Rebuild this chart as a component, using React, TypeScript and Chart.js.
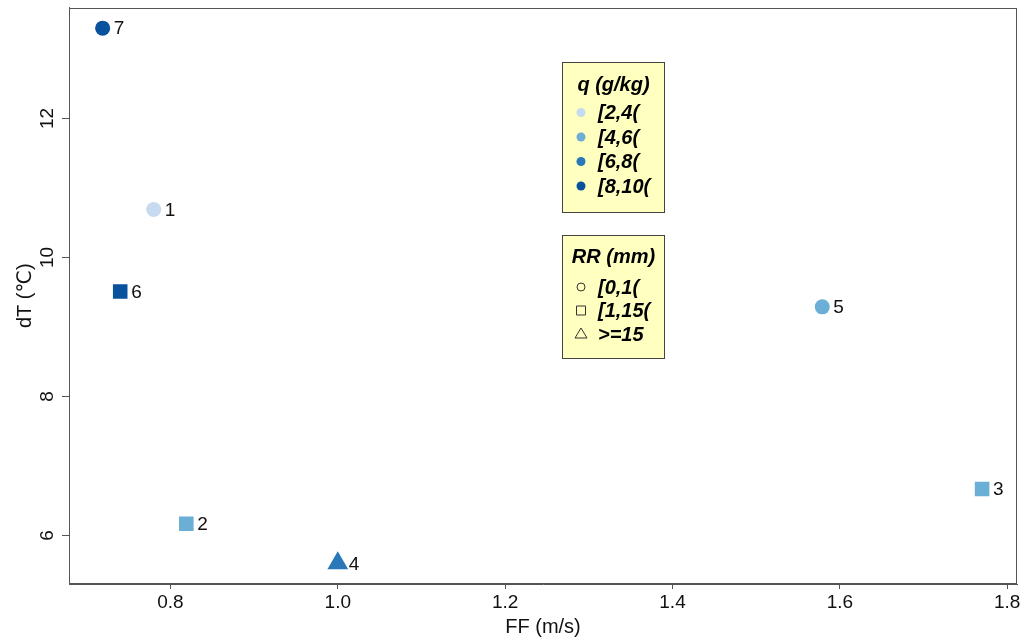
import React, { useEffect, useRef } from "react";
import { Chart, registerables } from "chart.js";

Chart.register(...registerables);

// ---- data ----
const pointIds = ["1", "2", "3", "4", "5", "6", "7"];
const ffValues = [0.78, 0.819, 1.77, 1.0, 1.579, 0.74, 0.719];
const dTValues = [10.69, 6.17, 6.67, 5.6, 9.29, 9.51, 13.3];
const qClassOfPoint = [0, 1, 1, 2, 1, 3, 3];
const rrClassOfPoint = [0, 1, 1, 2, 0, 1, 0];

const qTitle = "q (g/kg)";
const qLabels = ["[2,4(", "[4,6(", "[6,8(", "[8,10("];
const qColors = ["#c6dbef", "#6baed6", "#2a78b8", "#08519c"];
const rrTitle = "RR (mm)";
const rrLabels = ["[0,1(", "[1,15(", ">=15"];
const rrStyles = ["circle", "rect", "triangle"];
const rrRadius = [7.5, 10.3, 12];

const xTicks = [0.8, 1.0, 1.2, 1.4, 1.6, 1.8];
const yTicks = [6, 8, 10, 12];
const xRange = [0.6788, 1.8117];
const yRange = [5.302, 13.597];
const xTitle = "FF (m/s)";
const yTitle = "dT (℃)";

const FONT = "'Liberation Sans', Arial, 'DejaVu Sans', sans-serif";
const AXIS_COLOR = "#555555";
const TEXT_COLOR = "#111111";

const overlayPlugin = {
  id: "overlay",
  afterDraw(chart: any) {
    const ctx = chart.ctx as CanvasRenderingContext2D;
    const { left, right, top, bottom } = chart.chartArea;
    const xs = chart.scales.x;
    const ys = chart.scales.y;
    ctx.save();

    // plot frame
    ctx.strokeStyle = AXIS_COLOR;
    ctx.lineWidth = 1;
    const l = Math.round(left) + 0.5;
    const t = Math.round(top) + 0.5;
    const r = Math.round(right) - 0.5;
    const b = Math.round(bottom) - 0.5;
    ctx.strokeRect(l, t, r - l, b - t);

    // rotated y tick labels
    ctx.fillStyle = TEXT_COLOR;
    ctx.font = `19px ${FONT}`;
    ctx.textAlign = "center";
    ctx.textBaseline = "middle";
    yTicks.forEach((v) => {
      const y = ys.getPixelForValue(v);
      ctx.save();
      ctx.translate(left - 21, y);
      ctx.rotate(-Math.PI / 2);
      ctx.fillText(String(v), 0, 0);
      ctx.restore();
    });

    // point labels
    ctx.font = `19px ${FONT}`;
    ctx.textAlign = "left";
    ctx.textBaseline = "middle";
    pointIds.forEach((id, i) => {
      const px = xs.getPixelForValue(ffValues[i]);
      const py = ys.getPixelForValue(dTValues[i]);
      ctx.fillText(id, px + 11, py + 1);
    });

    // legend boxes
    const boxX = 562.5;
    const boxW = 102;
    const drawBox = (y: number, h: number) => {
      ctx.fillStyle = "#ffffc0";
      ctx.fillRect(boxX, y, boxW, h);
      ctx.strokeStyle = "#444444";
      ctx.lineWidth = 1;
      ctx.strokeRect(boxX, y, boxW, h);
    };
    const symX = 581;
    const txtX = 598;

    drawBox(62.5, 150);
    ctx.fillStyle = "#000";
    ctx.font = `italic bold 20px ${FONT}`;
    ctx.textAlign = "center";
    ctx.textBaseline = "middle";
    ctx.fillText(qTitle, boxX + boxW / 2, 85);
    qLabels.forEach((lab, i) => {
      const y = 112.5 + i * 24.5;
      ctx.fillStyle = qColors[i];
      ctx.beginPath();
      ctx.arc(symX, y, 4.5, 0, Math.PI * 2);
      ctx.fill();
      ctx.fillStyle = "#000";
      ctx.textAlign = "left";
      ctx.fillText(lab, txtX, y + 1);
    });

    drawBox(235.5, 123);
    ctx.fillStyle = "#000";
    ctx.textAlign = "center";
    ctx.fillText(rrTitle, boxX + boxW / 2, 257);
    rrLabels.forEach((lab, i) => {
      const y = 287 + i * 23.5;
      ctx.strokeStyle = "#333";
      ctx.lineWidth = 1;
      ctx.beginPath();
      if (rrStyles[i] === "circle") {
        ctx.arc(symX, y, 4, 0, Math.PI * 2);
      } else if (rrStyles[i] === "rect") {
        ctx.rect(symX - 4.5, y - 4.5, 9, 9);
      } else {
        ctx.moveTo(symX, y - 6);
        ctx.lineTo(symX + 6, y + 4);
        ctx.lineTo(symX - 6, y + 4);
        ctx.closePath();
      }
      ctx.stroke();
      ctx.fillStyle = "#000";
      ctx.textAlign = "left";
      ctx.fillText(lab, txtX, y + 1);
    });

    ctx.restore();
  },
};

export default function App() {
  const canvasRef = useRef<HTMLCanvasElement | null>(null);

  useEffect(() => {
    if (!canvasRef.current) return;
    const data = ffValues.map((x, i) => ({ x, y: dTValues[i] }));
    const chart = new Chart(canvasRef.current, {
      type: "scatter",
      data: {
        datasets: [
          {
            label: "points",
            data,
            pointStyle: rrClassOfPoint.map((c) => rrStyles[c]) as any,
            pointRadius: rrClassOfPoint.map((c) => rrRadius[c]),
            pointHoverRadius: rrClassOfPoint.map((c) => rrRadius[c]),
            backgroundColor: qClassOfPoint.map((c) => qColors[c]),
            borderColor: qClassOfPoint.map((c) => qColors[c]),
            borderWidth: 0,
          },
        ],
      },
      options: {
        responsive: true,
        maintainAspectRatio: false,
        animation: false,
        events: [],
        layout: {
          autoPadding: false,
          padding: { top: 7.5, right: 6, left: 0, bottom: 0 },
        },
        plugins: {
          legend: { display: false },
          tooltip: { enabled: false },
        },
        scales: {
          x: {
            type: "linear",
            min: xRange[0],
            max: xRange[1],
            afterFit: (s: any) => {
              s.height = 55;
              s.paddingLeft = 0;
              s.paddingRight = 0;
              s.paddingTop = 0;
              s.paddingBottom = 0;
            },
            afterBuildTicks: (s: any) => {
              s.ticks = xTicks.map((v) => ({ value: v }));
            },
            grid: {
              drawOnChartArea: false,
              drawTicks: true,
              tickLength: 5,
              color: AXIS_COLOR,
            },
            border: { color: AXIS_COLOR },
            ticks: {
              autoSkip: false,
              maxRotation: 0,
              minRotation: 0,
              padding: 2,
              color: TEXT_COLOR,
              font: { family: FONT, size: 19 },
              callback: (v: any) => Number(v).toFixed(1),
            },
            title: {
              display: true,
              text: xTitle,
              color: TEXT_COLOR,
              font: { family: FONT, size: 20 },
              padding: { top: 0, bottom: 0 },
            },
          },
          y: {
            type: "linear",
            min: yRange[0],
            max: yRange[1],
            afterFit: (s: any) => {
              s.width = 69;
              s.paddingLeft = 0;
              s.paddingRight = 0;
              s.paddingTop = 0;
              s.paddingBottom = 0;
            },
            afterBuildTicks: (s: any) => {
              s.ticks = yTicks.map((v) => ({ value: v }));
            },
            grid: {
              drawOnChartArea: false,
              drawTicks: true,
              tickLength: 7,
              color: AXIS_COLOR,
            },
            border: { color: AXIS_COLOR },
            ticks: { display: false },
            title: {
              display: true,
              text: yTitle,
              color: TEXT_COLOR,
              font: { family: FONT, size: 20 },
              padding: { top: 13, bottom: 0 },
            },
          },
        },
      },
      plugins: [overlayPlugin],
    });
    return () => chart.destroy();
  }, []);

  return (
    <div
      style={{
        position: "fixed",
        left: 0,
        top: 0,
        width: 1023,
        height: 639,
        background: "#ffffff",
      }}
    >
      <canvas ref={canvasRef} />
    </div>
  );
}
